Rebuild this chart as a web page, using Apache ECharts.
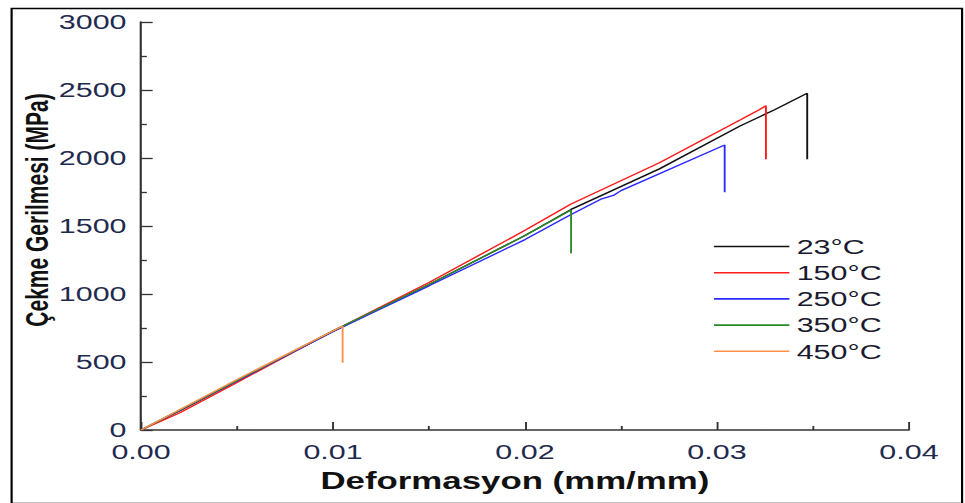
<!DOCTYPE html>
<html>
<head>
<meta charset="utf-8">
<script src="https://cdn.jsdelivr.net/npm/echarts@6/dist/echarts.min.js"></script>
<style>
html,body{margin:0;padding:0;background:#fff;overflow:hidden;}
#c{width:665px;height:503px;transform:scaleX(1.4511);transform-origin:0 0;}
</style>
</head>
<body>
<div id="c"></div>
<script>
// Data
const seriesNames = ['23°C', '150°C', '250°C', '350°C', '450°C'];
const strain23  = [0, 0.002, 0.005, 0.010, 0.015, 0.020, 0.0224, 0.027, 0.0312, 0.033, 0.0347, 0.0347];
const stress23  = [0, 140,   360,   725,   1070,  1430,  1622,   1920,  2235,   2355,  2476,   1990];
const strain150 = [0, 0.002, 0.005, 0.010, 0.015, 0.020, 0.0224, 0.027, 0.0312, 0.0322, 0.03255, 0.03255];
const stress150 = [0, 125,   350,   728,   1085,  1468,  1662,   1965,  2279,   2355,   2385,    1990];
const strain250 = [0, 0.005, 0.010, 0.015, 0.020, 0.0224, 0.0240, 0.0246, 0.0250, 0.0304, 0.0304];
const stress250 = [0, 360,   725,   1060,  1400,  1585,   1700,   1725,   1760,   2096,   1748];
const strain350 = [0, 0.005, 0.010, 0.015, 0.020, 0.0224, 0.0224];
const stress350 = [0, 365,   730,   1070,  1430,  1618,   1300];
const strain450 = [0, 0.005, 0.0105, 0.0105];
const stress450 = [0, 372,   765,    495];
const xTicks = [0, 0.01, 0.02, 0.03, 0.04];
const yTicks = [0, 500, 1000, 1500, 2000, 2500, 3000];
const colors = ['#111111', '#ff1a1a', '#2b2bff', '#2a8a2a', '#ff8f4a'];
const yTitle = 'Çekme Gerilmesi (MPa)';
const xTitle = 'Deformasyon (mm/mm)';

const strains = [strain23, strain150, strain250, strain350, strain450];
const stresses = [stress23, stress150, stress250, stress350, stress450];

const chart = echarts.init(document.getElementById('c'), null, {renderer: 'svg'});
const labelColor = '#1f2a4f';
const option = {
  animation: false,
  color: colors,
  graphic: [{
    type: 'rect', left: 5.5, top: 6, silent: true,
    shape: {width: 655, height: 495},
    style: {fill: 'none', stroke: '#000', lineWidth: 1.5}
  }, {
    type: 'text', x: 26, y: 210, rotation: Math.PI / 2, silent: true,
    style: {text: yTitle, fontFamily: 'Liberation Sans', fontSize: 21, fontWeight: 'bold',
      fill: '#111', align: 'center', verticalAlign: 'middle'}
  }],
  grid: {left: 97.2, right: 38.6, top: 22, bottom: 73, containLabel: false, outerBoundsMode: 'none'},
  legend: {
    orient: 'vertical', left: 492, top: 236, padding: 0,
    icon: 'rect', itemWidth: 52, itemHeight: 1.6, itemGap: 5.2,
    textStyle: {fontFamily: 'Liberation Sans', fontSize: 21, color: '#1a1a2e'},
    data: seriesNames
  },
  xAxis: {
    type: 'value', min: xTicks[0], max: xTicks[xTicks.length - 1], interval: 0.01,
    name: xTitle, nameLocation: 'middle', nameGap: 39,
    nameTextStyle: {fontFamily: 'Liberation Sans', fontSize: 24, fontWeight: 'bold', color: '#111', padding: [0, 14, 0, 0]},
    axisLine: {lineStyle: {color: '#333', width: 1.5}},
    axisTick: {inside: true, length: 8, lineStyle: {color: '#333', width: 1.3}},
    minorTick: {show: true, splitNumber: 2, length: 4, lineStyle: {color: '#333', width: 1.3}},
    splitLine: {show: false},
    axisLabel: {margin: 11, fontFamily: 'Liberation Sans', fontSize: 21, color: labelColor,
      formatter: v => v.toFixed(2)}
  },
  yAxis: {
    type: 'value', min: yTicks[0], max: yTicks[yTicks.length - 1], interval: 500,
    axisLine: {show: true, lineStyle: {color: '#333', width: 1.5}},
    axisTick: {show: true, inside: true, length: 8, lineStyle: {color: '#333', width: 1.3}},
    minorTick: {show: true, splitNumber: 2, length: 4, lineStyle: {color: '#333', width: 1.3}},
    splitLine: {show: false},
    axisLabel: {margin: 10, fontFamily: 'Liberation Sans', fontSize: 21, lineHeight: 14, color: labelColor,
      formatter: v => String(v)}
  },
  series: seriesNames.map((n, i) => ({
    name: n, type: 'line', symbol: 'none', showSymbol: false,
    lineStyle: {width: 1.3, color: colors[i]},
    itemStyle: {color: colors[i]},
    data: strains[i].map((x, k) => [x, stresses[i][k]])
  }))
};
chart.setOption(option);
</script>
</body>
</html>
